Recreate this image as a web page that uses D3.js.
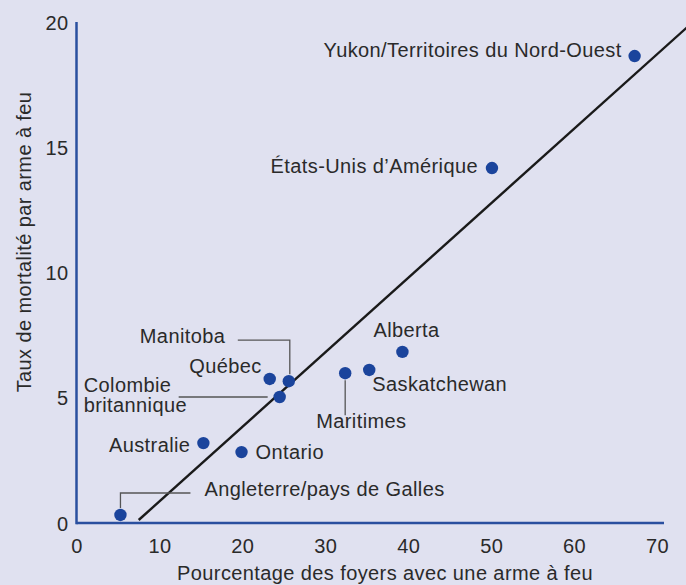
<!DOCTYPE html>
<html>
<head>
<meta charset="utf-8">
<script src="https://cdn.jsdelivr.net/npm/d3@7"></script>
<style>
  body { margin: 0; background: #e0e1f0; }
  svg { display: block; font-family: "Liberation Sans", Arial, sans-serif; }
  .lbl { font-size: 20px; fill: #2a2a2a; letter-spacing: 0.4px; }
  .tick text { font-size: 20px; fill: #2a2a2a; letter-spacing: 0.4px; }
</style>
</head>
<body>
<div class="chart"></div>
<script>
// Gun ownership vs firearm death rate
var regions = ["Yukon/Territoires du Nord-Ouest", "États-Unis d’Amérique", "Alberta", "Saskatchewan",
  "Maritimes", "Manitoba", "Québec", "Colombie britannique", "Australie", "Ontario", "Angleterre/pays de Galles"];
var gunPct = [67.3, 50.1, 39.3, 35.3, 32.4, 25.6, 23.3, 24.5, 15.3, 19.9, 5.3];
var deathRate = [18.64, 14.17, 6.83, 6.11, 5.98, 5.66, 5.75, 5.03, 3.19, 2.83, 0.32];

var xTicks = [0, 10, 20, 30, 40, 50, 60, 70];
var yTicks = [0, 5, 10, 15, 20];

// trend line end points
var trendX = [7.5, 74];
var trendY = [0.12, 19.9];

var svgWidth = 686;
var svgHeight = 585;

var svg = d3.select(".chart")
  .append("svg")
  .attr("width", svgWidth)
  .attr("height", svgHeight);

svg.append("rect")
  .attr("width", svgWidth)
  .attr("height", svgHeight)
  .attr("fill", "#e0e1f0");

var x = d3.scaleLinear().domain([0, 70]).range([76.5, 657]);
var y = d3.scaleLinear().domain([0, 20]).range([523, 22]);

// label placement (pixel offsets from each point)
var labelPos = [
  { dx: -13, dy: 1, anchor: "end" },
  { dx: -14, dy: 5, anchor: "end" },
  { dx: -29, dy: -15, anchor: "start" },
  { dx: 3, dy: 21, anchor: "start" },
  { dx: -29, dy: 55, anchor: "start" },
  { dx: -149, dy: -38, anchor: "start" },
  { dx: -8, dy: -6, anchor: "end" },
  { dx: -196, dy: -5, anchor: "start" },
  { dx: -13, dy: 9, anchor: "end" },
  { dx: 14, dy: 7, anchor: "start" },
  { dx: 84, dy: -19, anchor: "start" }
];

// leader lines (pixel paths relative to point)
var leaders = {
  "Manitoba": [[-51, -41], [1, -41], [1, -7]],
  "Colombie britannique": [[-101, 0], [-12, 0]],
  "Maritimes": [[0, 7], [0, 42]],
  "Angleterre/pays de Galles": [[70, -22], [0, -22], [0, -7]]
};

var pts = regions.map(function (r, i) {
  return { name: r, gx: gunPct[i], dr: deathRate[i], pos: labelPos[i] };
});

// axes
var bottomAxis = d3.axisBottom(x).tickValues(xTicks).tickSize(0).tickPadding(20);
var leftAxis = d3.axisLeft(y).tickValues(yTicks).tickSize(0).tickPadding(8);

var gx = svg.append("g").attr("transform", `translate(0, ${y(0)})`).call(bottomAxis);
var gy = svg.append("g").attr("transform", `translate(${x(0)}, 0)`).call(leftAxis);
gx.select(".domain").remove();
gy.select(".domain").remove();
gx.selectAll("text").attr("font-family", null).attr("dy", "0.5em");
gy.selectAll("text").attr("font-family", null).attr("dy", "0.35em");

svg.append("line")
  .attr("x1", x(0)).attr("x2", x(70) + 7)
  .attr("y1", y(0)).attr("y2", y(0))
  .attr("stroke", "#2a4f9f").attr("stroke-width", 2.5);

svg.append("line")
  .attr("x1", x(0)).attr("x2", x(0))
  .attr("y1", y(0) + 1.25).attr("y2", y(20))
  .attr("stroke", "#2a4f9f").attr("stroke-width", 2.5);

// trend line
svg.append("line")
  .attr("x1", x(trendX[0])).attr("y1", y(trendY[0]))
  .attr("x2", x(trendX[1])).attr("y2", y(trendY[1]))
  .attr("stroke", "#1a1a1a").attr("stroke-width", 2.4);

// leader lines
pts.forEach(function (d) {
  var l = leaders[d.name];
  if (!l) return;
  var cx = x(d.gx), cy = y(d.dr);
  svg.append("path")
    .attr("d", d3.line()(l.map(p => [cx + p[0], cy + p[1]])))
    .attr("fill", "none")
    .attr("stroke", "#555")
    .attr("stroke-width", 1.3);
});

// points
svg.selectAll("circle.pt")
  .data(pts)
  .enter()
  .append("circle")
  .attr("class", "pt")
  .attr("cx", d => x(d.gx))
  .attr("cy", d => y(d.dr))
  .attr("r", 6.2)
  .attr("fill", "#1b449c");

// labels
pts.forEach(function (d) {
  var t = svg.append("text")
    .attr("class", "lbl")
    .attr("x", x(d.gx) + d.pos.dx)
    .attr("y", y(d.dr) + d.pos.dy)
    .attr("text-anchor", d.pos.anchor);
  if (d.name === "Colombie britannique") {
    t.append("tspan").attr("x", x(d.gx) + d.pos.dx).text("Colombie");
    t.append("tspan").attr("x", x(d.gx) + d.pos.dx).attr("dy", 20).text("britannique");
  } else {
    t.text(d.name);
  }
});

// axis titles
svg.append("text")
  .attr("class", "lbl")
  .attr("x", 385)
  .attr("y", 580)
  .attr("text-anchor", "middle")
  .text("Pourcentage des foyers avec une arme à feu");

svg.append("text")
  .attr("class", "lbl")
  .attr("transform", "translate(31, 242) rotate(-90)")
  .attr("text-anchor", "middle")
  .text("Taux de mortalité par arme à feu");
</script>
</body>
</html>
